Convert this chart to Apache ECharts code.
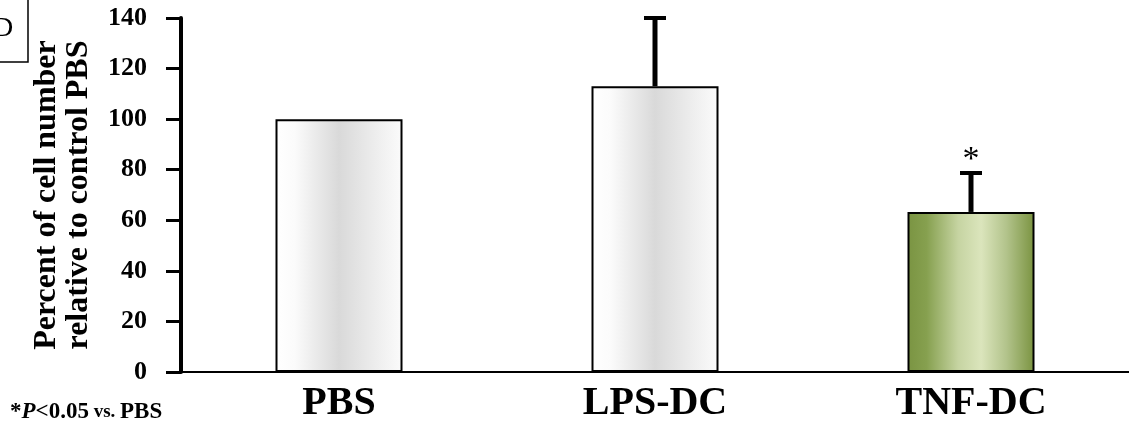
<!DOCTYPE html>
<html>
<head>
<meta charset="utf-8">
<script src="https://cdn.jsdelivr.net/npm/echarts@6/dist/echarts.min.js"></script>
<style>
html,body{margin:0;padding:0;background:#fff;}
#chart{width:1129px;height:432px;}
</style>
</head>
<body>
<div id="chart"></div>
<script>
const categories = ['PBS', 'LPS-DC', 'TNF-DC'];
const values = [100, 113, 63.3];
const errors = [0, 27, 15.4];
const significance = ['', '', '*'];
const yTicks = { min: 0, max: 140, interval: 20 };
const yAxisName = 'Percent of cell number\nrelative to control PBS';
const panelLetter = 'D';

const FONT = '"Liberation Serif", "Times New Roman", serif';

const whiteGrad = new echarts.graphic.LinearGradient(0, 0, 1, 0, [
  { offset: 0, color: '#ffffff' },
  { offset: 0.15, color: '#fbfbfb' },
  { offset: 0.5, color: '#d9d9d9' },
  { offset: 0.8, color: '#eeeeee' },
  { offset: 1, color: '#fbfbfb' }
]);
const greenGrad = new echarts.graphic.LinearGradient(0, 0, 1, 0, [
  { offset: 0, color: '#7a9442' },
  { offset: 0.15, color: '#86a04f' },
  { offset: 0.4, color: '#c6d4a2' },
  { offset: 0.58, color: '#dbe5bc' },
  { offset: 0.78, color: '#b2c38b' },
  { offset: 1, color: '#7a9340' }
]);
const fills = [whiteGrad, whiteGrad, greenGrad];

const chart = echarts.init(document.getElementById('chart'), null, { renderer: 'canvas' });

const errData = categories.map((c, i) => [i, values[i], errors[i], significance[i]]);

chart.setOption({
  animation: false,
  backgroundColor: '#ffffff',
  grid: { left: 181, width: 955, top: 18, bottom: 60, containLabel: false },
  xAxis: {
    type: 'category',
    data: categories,
    axisLine: { lineStyle: { color: '#000', width: 2 } },
    axisTick: { show: false },
    axisLabel: {
      color: '#000', fontFamily: FONT, fontWeight: 'bold', fontSize: 40, margin: 12
    }
  },
  yAxis: {
    type: 'value',
    min: yTicks.min, max: yTicks.max, interval: yTicks.interval,
    name: yAxisName,
    nameLocation: 'middle',
    nameRotate: 90,
    nameGap: 86,
    nameTextStyle: {
      color: '#000', fontFamily: FONT, fontWeight: 'bold', fontSize: 32, lineHeight: 32
    },
    splitLine: { show: false },
    axisLine: { show: true, lineStyle: { color: '#000', width: 4 } },
    axisTick: { show: true, length: 15, lineStyle: { color: '#000', width: 3 } },
    axisLabel: {
      color: '#000', fontFamily: FONT, fontWeight: 'bold', fontSize: 26, margin: 34
    }
  },
  series: [
    {
      type: 'bar',
      barWidth: 127,
      data: values.map((v, i) => ({
        value: v,
        itemStyle: { color: fills[i], borderColor: '#000', borderWidth: 2 }
      })),
      z: 2
    },
    {
      type: 'custom',
      data: errData,
      z: 3,
      renderItem: function (params, api) {
        const i = api.value(0);
        const v = api.value(1);
        const e = api.value(2);
        const s = errData[params.dataIndex][3];
        const base = api.coord([i, v]);
        const top = api.coord([i, v + e]);
        const children = [];
        if (e > 0) {
          children.push({
            type: 'line',
            shape: { x1: base[0], y1: base[1], x2: top[0], y2: top[1] + 1 },
            style: { stroke: '#000', lineWidth: 5 }
          });
          children.push({
            type: 'line',
            shape: { x1: top[0] - 11, y1: top[1], x2: top[0] + 11, y2: top[1] },
            style: { stroke: '#000', lineWidth: 4 }
          });
        }
        if (s) {
          children.push({
            type: 'text',
            x: top[0],
            y: top[1] + 4,
            style: {
              text: s, fill: '#000', font: '34px ' + FONT,
              textAlign: 'center', textVerticalAlign: 'bottom'
            }
          });
        }
        return { type: 'group', children: children };
      }
    }
  ],
  graphic: [
    {
      type: 'rect',
      shape: { x: -4, y: -4, width: 32, height: 66 },
      style: { fill: 'none', stroke: '#000', lineWidth: 1.5 }
    },
    {
      type: 'text',
      left: -7, top: 15,
      style: { text: panelLetter, fill: '#000', font: '28px ' + FONT }
    },
    {
      type: 'text',
      left: 10, top: 401,
      style: {
        text: '{a|*}{b|P}{a|<0.05}{c| vs. }{a|PBS}',
        rich: {
          a: { fontFamily: FONT, fontWeight: 'bold', fontSize: 23, color: '#000' },
          b: { fontFamily: FONT, fontWeight: 'bold', fontStyle: 'italic', fontSize: 23, color: '#000' },
          c: { fontFamily: FONT, fontWeight: 'bold', fontSize: 19, color: '#000' }
        }
      }
    }
  ]
});
</script>
</body>
</html>
